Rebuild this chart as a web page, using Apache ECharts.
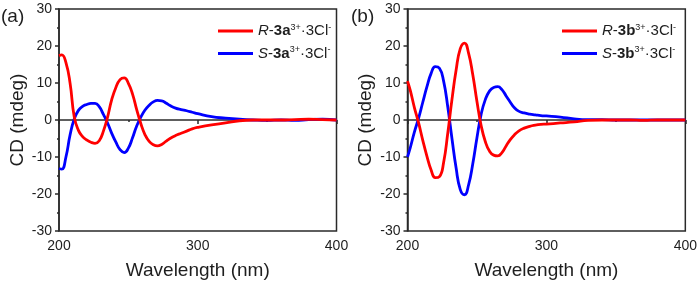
<!DOCTYPE html>
<html>
<head>
<meta charset="utf-8">
<script src="https://cdn.jsdelivr.net/npm/echarts@6/dist/echarts.min.js"></script>
<style>
  html, body { margin: 0; padding: 0; background: #fff; }
  #chart { width: 700px; height: 285px; }
</style>
</head>
<body>
<div id="chart"></div>
<script>
  // wavelength (nm), shared by all four curves
  const wavelength = [200, 202, 205, 208, 211, 214, 217, 220, 223, 226, 229, 232, 235, 238, 241, 244, 247, 250, 253, 256, 259, 262, 265, 268, 271, 274, 277, 280, 284, 288, 292, 296, 300, 310, 320, 330, 340, 350, 360, 370, 380, 390, 400]

  // panel (a)
  const r3a = [17.4, 17.6, 15.5, 9.9, 0.8, -2.8, -4.5, -5.4, -6.0, -6.3, -5.6, -3.0, 0.8, 5.5, 8.8, 10.9, 11.4, 9.9, 7.0, 2.8, -1.0, -4.0, -5.8, -6.7, -7.0, -6.6, -5.8, -5.0, -4.2, -3.6, -3.0, -2.4, -2.0, -1.3, -0.8, -0.2, 0, 0, 0, 0.1, 0.2, 0.1, 0]
  const s3a = [-13.1, -13.3, -10, -4, 0.3, 2.6, 3.7, 4.2, 4.5, 4.5, 3.6, 1.5, -0.8, -3.6, -6.0, -8.0, -8.8, -7.6, -4.8, -1.6, 0.8, 2.7, 4.0, 4.9, 5.3, 5.2, 4.6, 3.9, 3.2, 2.8, 2.5, 2.1, 1.7, 0.9, 0.5, 0.2, 0, -0.1, 0, -0.1, 0.1, 0.2, 0]

  // panel (b)
  const r3b = [10.5, 8.0, 3.3, -0.8, -5.5, -9.8, -13.5, -15.6, -15.3, -11.5, -3.5, 5.5, 13.5, 19.3, 20.8, 18.0, 12.2, 5.0, -1.5, -5.8, -8.4, -9.5, -9.7, -8.8, -7.0, -5.3, -4.0, -3.0, -2.2, -1.7, -1.4, -1.2, -1.1, -0.8, -0.5, -0.1, 0, 0, 0, -0.1, 0, 0, 0]
  const s3b = [-10, -7.5, -3.2, 0.5, 4.8, 9.0, 12.6, 14.4, 14.0, 10.5, 3.5, -5.0, -13.0, -18.8, -20.2, -17.5, -11.8, -4.8, 1.5, 5.5, 7.8, 8.8, 9.0, 8.2, 6.5, 4.8, 3.3, 2.4, 1.9, 1.6, 1.4, 1.2, 1.1, 0.8, 0.3, 0.1, 0.1, 0, 0, 0, 0, 0, 0]

  const xTicks = [200, 300, 400]
  const yTicks = [-30, -20, -10, 0, 10, 20, 30]

  const font = 'Liberation Sans, Arial, sans-serif'
  const axisColor = '#2a2a2a'
  const textColor = '#1e1e1e'

  function pairs(ys) {
    return wavelength.map((w, i) => [w, ys[i]])
  }

  const legendRich = {
    i: { fontStyle: 'italic', fontSize: 15, fontFamily: font, color: textColor, lineHeight: 16 },
    t: { fontSize: 15, fontFamily: font, color: textColor, lineHeight: 16 },
    b: { fontWeight: 'bold', fontSize: 15, fontFamily: font, color: textColor, lineHeight: 16 },
    sup: { fontSize: 9, fontFamily: font, color: textColor, lineHeight: 9, verticalAlign: 'top' }
  }

  const legendText = {
    'R-3a': '{i|R}{t|-}{b|3a}{sup|3+}{t|·3Cl}{sup|-}',
    'S-3a': '{i|S}{t|-}{b|3a}{sup|3+}{t|·3Cl}{sup|-}',
    'R-3b': '{i|R}{t|-}{b|3b}{sup|3+}{t|·3Cl}{sup|-}',
    'S-3b': '{i|S}{t|-}{b|3b}{sup|3+}{t|·3Cl}{sup|-}'
  }

  function xAxis(idx) {
    return {
      type: 'value', gridIndex: idx, min: 200, max: 400, interval: 100,
      name: 'Wavelength (nm)', nameLocation: 'middle', nameGap: 30,
      nameTextStyle: { fontSize: 19, fontFamily: font, color: textColor },
      axisLine: { lineStyle: { color: axisColor, width: 1.5 } },
      axisTick: { inside: false, length: 4, lineStyle: { color: axisColor, width: 1.5 } },
      minorTick: { show: true, splitNumber: 2, length: 2, lineStyle: { color: axisColor, width: 1.5 } },
      axisLabel: { fontSize: 14, fontFamily: font, color: textColor, margin: 8,
        formatter: v => xTicks.includes(v) ? String(v) : '' },
      splitLine: { show: false }
    }
  }

  function yAxis(idx) {
    return {
      type: 'value', gridIndex: idx, min: -30, max: 30, interval: 10,
      name: 'CD (mdeg)', nameLocation: 'middle', nameGap: 32,
      nameTextStyle: { fontSize: 19, fontFamily: font, color: textColor },
      axisLine: { lineStyle: { color: axisColor, width: 1.5 } },
      axisTick: { inside: false, length: 4, lineStyle: { color: axisColor, width: 1.5 } },
      minorTick: { show: true, splitNumber: 2, length: 2, lineStyle: { color: axisColor, width: 1.5 } },
      axisLabel: { fontSize: 14, fontFamily: font, color: textColor, margin: 7,
        formatter: v => yTicks.includes(v) ? String(v) : '' },
      splitLine: { show: false }
    }
  }

  function line(name, ys, color, idx) {
    return {
      name: name, type: 'line', xAxisIndex: idx, yAxisIndex: idx,
      data: pairs(ys), smooth: 0.5, showSymbol: false, symbol: 'none',
      lineStyle: { color: color, width: 2.8 }, itemStyle: { color: color },
      z: name.startsWith('R') ? 3 : 2
    }
  }

  function legend(names, left) {
    return {
      data: names, orient: 'vertical', left: left, top: 18,
      icon: 'rect', itemWidth: 35, itemHeight: 3, itemGap: 7,
      formatter: n => legendText[n],
      textStyle: { rich: legendRich }
    }
  }

  const chart = echarts.init(document.getElementById('chart'), null, { renderer: 'canvas' })
  chart.setOption({
    backgroundColor: '#fff',
    animation: false,
    title: [
      { text: '(a)', left: -4, top: 2, textStyle: { fontSize: 19, fontWeight: 'normal', fontFamily: font, color: textColor } },
      { text: '(b)', left: 346, top: 2, textStyle: { fontSize: 19, fontWeight: 'normal', fontFamily: font, color: textColor } }
    ],
    grid: [
      { left: 59, right: 363.5, top: 9, bottom: 53, show: true, borderColor: axisColor, borderWidth: 1.5, backgroundColor: 'transparent' },
      { left: 407.5, right: 13, top: 9, bottom: 53, show: true, borderColor: axisColor, borderWidth: 1.5, backgroundColor: 'transparent' }
    ],
    legend: [
      legend(['R-3a', 'S-3a'], 213),
      legend(['R-3b', 'S-3b'], 557)
    ],
    xAxis: [xAxis(0), xAxis(1)],
    yAxis: [yAxis(0), yAxis(1)],
    series: [
      line('R-3a', r3a, '#ff0000', 0),
      line('S-3a', s3a, '#0000ff', 0),
      line('R-3b', r3b, '#ff0000', 1),
      line('S-3b', s3b, '#0000ff', 1)
    ]
  })
</script>
</body>
</html>
